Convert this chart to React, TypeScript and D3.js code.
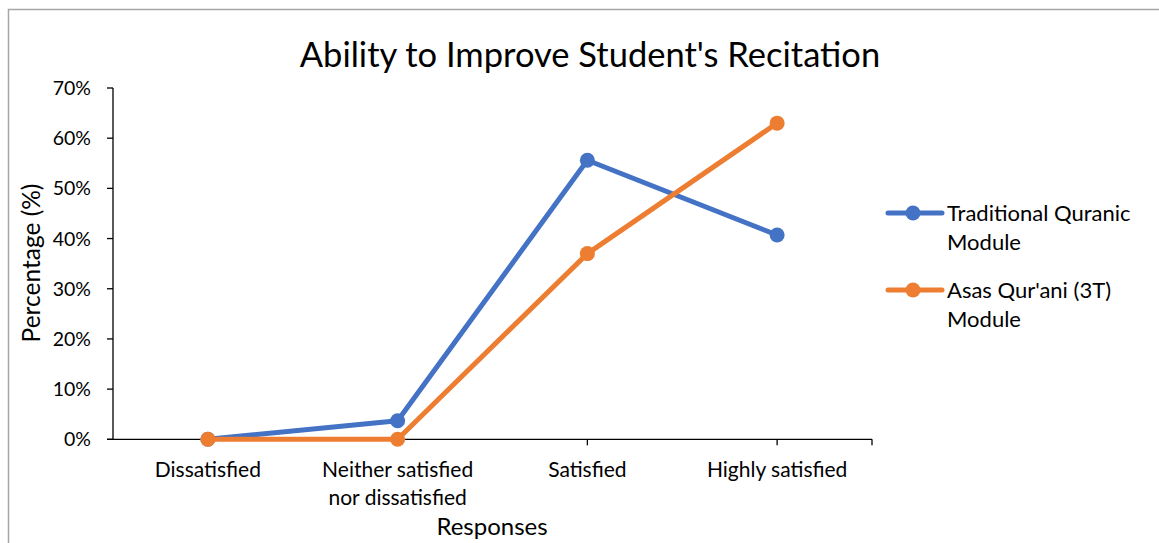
import React, { useEffect, useRef } from "react";
import * as d3 from "d3";

const categories = [
  ["Dissatisfied"],
  ["Neither satisfied", "nor dissatisfied"],
  ["Satisfied"],
  ["Highly satisfied"],
];
const traditional = [0, 0.037, 0.556, 0.407];
const asas = [0, 0, 0.37, 0.63];
const seriesNames = [
  ["Traditional Quranic", "Module"],
  ["Asas Qur'ani (3T)", "Module"],
];
const seriesColors = ["#4472C4", "#ED7D31"];
const yTicks = [0, 0.1, 0.2, 0.3, 0.4, 0.5, 0.6, 0.7];

const FONT = "Lato, 'Open Sans', sans-serif";

export default function App() {
  const ref = useRef<SVGSVGElement>(null);
  useEffect(() => {
    const svg = d3.select(ref.current);
    svg.selectAll("*").remove();
    const W = 1159, H = 543;
    const x0 = 113, x1 = 872, yTop = 88, yBot = 439.3;

    svg.append("rect").attr("x", 8.5).attr("y", 9.5).attr("width", W).attr("height", H)
      .attr("fill", "white").attr("stroke", "#a6a6a6").attr("stroke-width", 1.5);

    const x = d3.scaleBand<number>().domain(d3.range(categories.length)).range([x0, x1]);
    const cx = (i: number) => (x(i) as number) + x.bandwidth() / 2;
    const y = d3.scaleLinear().domain([0, 0.7]).range([yBot, yTop]);

    // title
    svg.append("text").attr("x", 590).attr("y", 67).attr("text-anchor", "middle")
      .attr("font-family", FONT).attr("font-size", 34.5).attr("fill", "#000")
      .text("Ability to Improve Student's Recitation");

    // y axis
    const g = svg.append("g");
    g.append("line").attr("x1", x0).attr("x2", x0).attr("y1", yTop).attr("y2", yBot)
      .attr("stroke", "#000").attr("stroke-width", 1.3);
    yTicks.forEach((t) => {
      g.append("line").attr("x1", x0 - 6).attr("x2", x0).attr("y1", y(t)).attr("y2", y(t))
        .attr("stroke", "#000").attr("stroke-width", 1.3);
      g.append("text").attr("x", 91).attr("y", y(t) + 7).attr("text-anchor", "end")
        .attr("font-family", FONT).attr("font-size", 19.5).attr("fill", "#000")
        .text(d3.format(".0%")(t));
    });

    // x axis
    g.append("line").attr("x1", x0 - 6).attr("x2", x1).attr("y1", yBot).attr("y2", yBot)
      .attr("stroke", "#000").attr("stroke-width", 1.3);
    [...categories.map((_, i) => cx(i)), x1].forEach((px) => {
      g.append("line").attr("x1", px).attr("x2", px).attr("y1", yBot).attr("y2", yBot + 6)
        .attr("stroke", "#000").attr("stroke-width", 1.3);
    });
    categories.forEach((lines, i) => {
      lines.forEach((l, k) => {
        g.append("text").attr("x", cx(i)).attr("y", 477 + k * 28).attr("text-anchor", "middle")
          .attr("font-family", FONT).attr("font-size", 21).attr("fill", "#000").text(l);
      });
    });

    // axis titles
    svg.append("text").attr("x", 492).attr("y", 535).attr("text-anchor", "middle")
      .attr("font-family", FONT).attr("font-size", 24).attr("fill", "#000").text("Responses");
    svg.append("text").attr("transform", `translate(40,263) rotate(-90)`).attr("text-anchor", "middle")
      .attr("font-family", FONT).attr("font-size", 24.5).attr("fill", "#000").text("Percentage (%)");

    // series
    const line = d3.line<number>().x((_, i) => cx(i)).y((d) => y(d));
    [traditional, asas].forEach((data, si) => {
      svg.append("path").attr("d", line(data) as string).attr("fill", "none")
        .attr("stroke", seriesColors[si]).attr("stroke-width", 5).attr("stroke-linejoin", "round")
        .attr("stroke-linecap", "round");
      data.forEach((d, i) => {
        svg.append("circle").attr("cx", cx(i)).attr("cy", y(d)).attr("r", 7.5)
          .attr("fill", seriesColors[si]);
      });
    });

    // legend
    const legY = [213, 290];
    seriesNames.forEach((names, si) => {
      const ly = legY[si];
      svg.append("line").attr("x1", 888).attr("x2", 942).attr("y1", ly).attr("y2", ly)
        .attr("stroke", seriesColors[si]).attr("stroke-width", 5).attr("stroke-linecap", "round");
      svg.append("circle").attr("cx", 913).attr("cy", ly).attr("r", 7.5).attr("fill", seriesColors[si]);
      names.forEach((n, k) => {
        svg.append("text").attr("x", 947).attr("y", ly + 8 + k * 29)
          .attr("font-family", FONT).attr("font-size", 22).attr("fill", "#000").text(n);
      });
    });
  }, []);
  return (
    <svg ref={ref} width={1159} height={543}
      style={{ position: "absolute", left: 0, top: 0, display: "block" }} />
  );
}
